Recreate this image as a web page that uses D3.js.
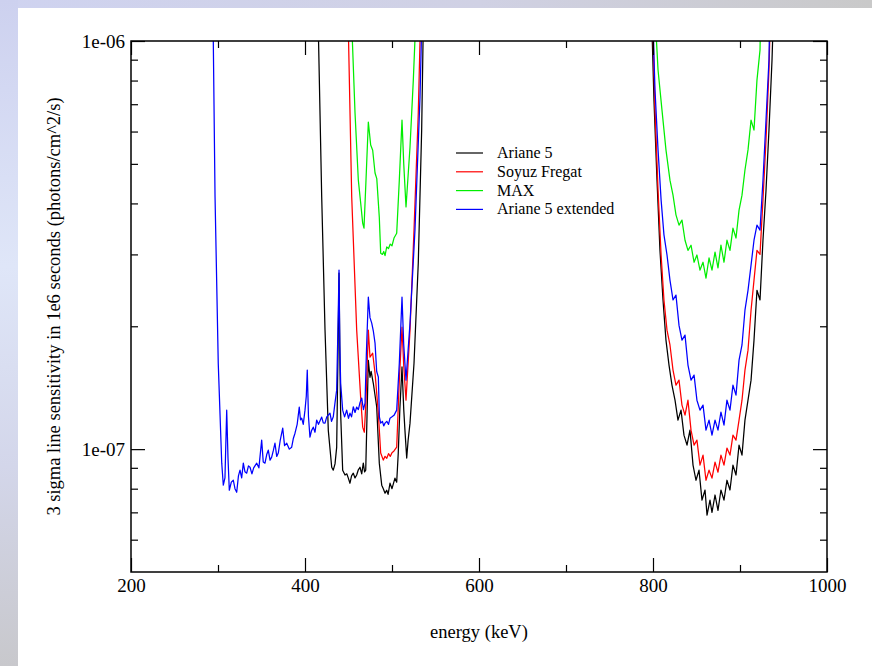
<!DOCTYPE html>
<html>
<head>
<meta charset="utf-8">
<script src="https://cdn.jsdelivr.net/npm/d3@7"></script>
<style>
  body { margin: 0; padding: 0; background: #fff; }
  text { font-family: "Liberation Serif", "Times New Roman", serif; fill: #000; }
</style>
</head>
<body>
<div id="chart"></div>
<script>
var width = 872;
var height = 666;
var margin = {top: 41, right: 45, bottom: 94, left: 131};

// series, energy (keV) / sensitivity (photons/cm^2/s)
var seriesNames = ["Ariane 5", "Soyuz Fregat", "MAX", "Ariane 5 extended"];
var seriesColors = ["#000000", "#ff0000", "#00ee00", "#0000ff"];

var ariane5 = [
  [414.5, 1.3e-6], [419.2, 4.15e-7], [423.0, 1.96e-7], [426.8, 1.11e-7], [430.7, 9.03e-8], [432.5, 8.88e-8],
  [434.5, 9.2e-8], [436.4, 1.01e-7], [438.3, 1.96e-7], [439.1, 2.70e-7], [440.2, 1.6e-7], [441.0, 1.22e-7],
  [443.3, 8.88e-8], [446, 8.64e-8], [448, 8.7e-8], [449.8, 8.49e-8], [451.7, 8.25e-8], [453.5, 8.6e-8],
  [455.5, 8.73e-8], [457.5, 8.5e-8], [459.4, 8.64e-8], [461.3, 8.9e-8], [463.2, 9.03e-8], [465.2, 8.7e-8],
  [467.0, 9.24e-8], [468.5, 8.8e-8], [469.8, 8.88e-8], [472.8, 1.65e-7], [474.7, 1.50e-7], [476, 1.55e-7],
  [478.5, 1.45e-7], [482.4, 1.27e-7], [485.4, 9.24e-8], [488.2, 8.16e-8], [490, 8.0e-8], [492, 7.8e-8],
  [493.9, 7.93e-8], [495.5, 7.75e-8], [497.7, 8.25e-8], [500, 8.0e-8], [503.4, 8.49e-8], [505.4, 8.3e-8],
  [507.2, 9.78e-8], [509, 1.25e-7], [511.5, 1.59e-7], [513.5, 1.25e-7], [514.9, 1.11e-7], [516.9, 9.51e-8],
  [518.5, 1.05e-7], [520.7, 1.158e-7], [525.3, 1.624e-7], [530.2, 2.856e-7], [534.1, 6.05e-7], [536.5, 1.3e-6],
  null,
  [797.7, 1.3e-6], [801.1, 7.17e-7], [804.6, 4.56e-7], [808.0, 3.07e-7], [811.5, 2.32e-7], [814.9, 1.85e-7],
  [818.4, 1.607e-7], [821.8, 1.435e-7], [825.3, 1.318e-7], [828.7, 1.178e-7], [832.2, 1.246e-7], [835.6, 1.082e-7],
  [839.1, 1.023e-7], [842.5, 1.113e-7], [846.0, 9.14e-8], [849.4, 8.39e-8], [852.9, 8.88e-8], [856.3, 7.50e-8],
  [859.8, 7.94e-8], [862.1, 6.89e-8], [865.5, 7.50e-8], [867.8, 7.0e-8], [871.3, 7.72e-8], [874.7, 7.08e-8],
  [878.1, 7.94e-8], [881.6, 7.50e-8], [885.0, 8.39e-8], [888.5, 7.94e-8], [891.9, 9.14e-8], [895.4, 8.64e-8],
  [898.9, 1.023e-7], [902.3, 9.67e-8], [905.7, 1.178e-7], [909.2, 1.318e-7], [912.7, 1.476e-7], [916.1, 1.85e-7],
  [919.5, 2.45e-7], [923.0, 2.32e-7], [926.4, 3.25e-7], [929.9, 4.31e-7], [933.3, 6.05e-7], [936.8, 8.98e-7],
  [939.1, 1.3e-6]
];

var soyuzFregat = [
  [449, 1.3e-6], [453.7, 4.15e-7], [459.4, 1.96e-7], [464.0, 1.334e-7], [466.3, 1.132e-7], [468.2, 1.10e-7],
  [470, 1.3e-7], [472.8, 1.957e-7], [474.7, 1.68e-7], [477.8, 1.718e-7], [480.5, 1.536e-7], [484.3, 1.225e-7],
  [487, 9.78e-8], [490, 9.4e-8], [492, 9.6e-8], [494, 9.5e-8], [496, 9.75e-8], [498, 9.6e-8], [500, 9.8e-8],
  [502.3, 9.9e-8], [505.4, 1.011e-7], [508.4, 1.476e-7], [511.5, 1.99e-7], [513.5, 1.6e-7], [516.1, 1.318e-7],
  [520.7, 1.957e-7], [525.3, 3.44e-7], [530.2, 6.66e-7], [533.5, 1.3e-6],
  null,
  [798.9, 1.3e-6], [802.3, 6.78e-7], [805.8, 4.31e-7], [809.3, 2.99e-7], [812.6, 2.32e-7], [816.1, 1.957e-7],
  [819.5, 1.80e-7], [823.0, 1.562e-7], [826.4, 1.435e-7], [829.9, 1.476e-7], [833.3, 1.282e-7], [836.8, 1.212e-7],
  [840.2, 1.318e-7], [843.7, 1.113e-7], [847.2, 1.023e-7], [850.5, 1.052e-7], [854.0, 9.14e-8], [857.5, 9.67e-8],
  [860.9, 8.39e-8], [864.4, 8.88e-8], [867.8, 8.49e-8], [871.3, 9.29e-8], [874.7, 8.78e-8], [878.1, 9.67e-8],
  [881.6, 9.14e-8], [885.0, 1.006e-7], [888.5, 9.67e-8], [891.9, 1.082e-7], [895.4, 1.052e-7], [898.9, 1.178e-7],
  [902.3, 1.318e-7], [905.7, 1.562e-7], [909.2, 1.748e-7], [912.7, 2.19e-7], [916.1, 2.595e-7], [919.5, 3.07e-7],
  [923.0, 3.0e-7], [926.4, 4.08e-7], [929.9, 5.72e-7], [933.3, 8.49e-7], [935.6, 1.3e-6]
];

var max = [
  [452.5, 1.3e-6], [457.5, 6.66e-7], [461.3, 4.56e-7], [464.0, 4.01e-7], [466.3, 3.58e-7], [467.8, 3.48e-7],
  [470, 4.5e-7], [472.8, 6.33e-7], [475.5, 5.56e-7], [477.8, 5.4e-7], [480.5, 4.75e-7], [482.5, 4.6e-7],
  [485.4, 3.70e-7], [487, 3.02e-7], [489, 3.0e-7], [490.5, 3.05e-7], [492, 2.98e-7], [493.9, 3.128e-7],
  [496, 3.1e-7], [498, 3.18e-7], [500, 3.15e-7], [502.3, 3.29e-7], [505.4, 3.38e-7], [508.4, 4.56e-7],
  [511.5, 6.40e-7], [513.5, 5.0e-7], [516.1, 3.92e-7], [520.7, 5.50e-7], [524.5, 8.02e-7], [528.5, 1.3e-6],
  null,
  [801.1, 1.3e-6], [805.8, 8.49e-7], [810.3, 6.78e-7], [814.9, 5.41e-7], [819.5, 4.56e-7], [823.0, 4.19e-7],
  [826.4, 3.75e-7], [829.9, 3.54e-7], [833.3, 3.64e-7], [836.8, 3.25e-7], [840.2, 3.07e-7], [843.7, 3.16e-7],
  [847.2, 2.87e-7], [850.5, 2.99e-7], [854.0, 2.746e-7], [857.5, 2.87e-7], [860.9, 2.625e-7], [864.4, 2.94e-7],
  [867.8, 2.746e-7], [871.3, 3.04e-7], [874.7, 2.78e-7], [878.1, 3.16e-7], [881.6, 2.87e-7], [885.0, 3.25e-7],
  [888.5, 3.07e-7], [891.9, 3.48e-7], [895.4, 3.29e-7], [898.9, 3.85e-7], [902.3, 4.19e-7], [905.7, 4.83e-7],
  [909.2, 5.41e-7], [912.7, 6.40e-7], [916.1, 6.05e-7], [919.5, 8.02e-7], [923.0, 9.5e-7], [924.1, 1.3e-6]
];

var ariane5Extended = [
  [294, 1.3e-6], [296.6, 4.15e-7], [300.3, 1.62e-7], [304.3, 9.24e-8], [306.1, 8.16e-8], [308, 8.5e-8],
  [310.0, 1.246e-7], [311.5, 9.5e-8], [313.0, 7.93e-8], [315.3, 8.3e-8], [317.6, 8.39e-8], [319.5, 8.0e-8],
  [321.5, 7.84e-8], [323.5, 8.6e-8], [325.3, 8.88e-8], [327.2, 8.5e-8], [329.1, 9.24e-8], [331, 8.8e-8],
  [333, 8.73e-8], [335, 9.1e-8], [336.8, 9.03e-8], [339, 8.7e-8], [341, 9.0e-8], [344.5, 9.24e-8],
  [347, 9.0e-8], [350.2, 1.052e-7], [352, 9.3e-8], [354, 9.24e-8], [356, 9.7e-8], [357.8, 9.94e-8],
  [359.8, 9.4e-8], [361.7, 9.56e-8], [363.5, 9.9e-8], [365.5, 1.034e-7], [367.5, 9.6e-8], [369.3, 9.78e-8],
  [371.5, 1.05e-7], [374.4, 1.126e-7], [376.5, 1.02e-7], [379, 1.034e-7], [382, 1.0e-7], [384.7, 1.011e-7],
  [386.5, 1.06e-7], [388.5, 1.094e-7], [391, 1.15e-7], [393.4, 1.268e-7], [394.8, 1.18e-7], [396.2, 1.191e-7],
  [398, 1.15e-7], [400, 1.246e-7], [401.5, 1.35e-7], [402.6, 1.562e-7], [404, 1.2e-7], [405.7, 1.07e-7],
  [407.5, 1.11e-7], [409.5, 1.132e-7], [411.5, 1.10e-7], [413.4, 1.178e-7], [415.5, 1.15e-7], [419.2, 1.198e-7],
  [421, 1.16e-7], [423, 1.158e-7], [425, 1.2e-7], [428.7, 1.225e-7], [430.5, 1.17e-7], [432.5, 1.2e-7],
  [434.5, 1.3e-7], [436.4, 1.395e-7], [438.3, 2.2e-7], [439.1, 2.746e-7], [440, 1.8e-7], [441, 1.45e-7],
  [443.3, 1.246e-7], [445.5, 1.2e-7], [447.9, 1.246e-7], [450, 1.19e-7], [451.7, 1.225e-7], [453.5, 1.2e-7],
  [455.5, 1.27e-7], [457.5, 1.23e-7], [459.4, 1.268e-7], [461.3, 1.25e-7], [463.2, 1.3e-7], [465.2, 1.334e-7],
  [467.2, 1.25e-7], [469.0, 1.296e-7], [470.5, 1.7e-7], [472.8, 2.358e-7], [474.7, 2.1e-7], [476.7, 2.036e-7],
  [478.5, 1.95e-7], [480.5, 1.819e-7], [482.4, 1.55e-7], [484.3, 1.502e-7], [485.5, 1.2e-7], [487, 1.158e-7],
  [489, 1.17e-7], [490.5, 1.14e-7], [492, 1.158e-7], [494, 1.17e-7], [496, 1.15e-7], [497.7, 1.191e-7],
  [500, 1.2e-7], [502.3, 1.21e-7], [505.4, 1.246e-7], [508.4, 1.624e-7], [511.5, 2.358e-7], [513.5, 1.8e-7],
  [516.1, 1.476e-7], [520.7, 2.036e-7], [526.4, 3.44e-7], [532.2, 7.29e-7], [535, 1.3e-6],
  null,
  [798.9, 1.3e-6], [802.3, 7.58e-7], [805.8, 5.41e-7], [809.3, 4.08e-7], [812.6, 3.35e-7], [816.1, 2.99e-7],
  [819.5, 2.595e-7], [823.0, 2.32e-7], [826.4, 2.385e-7], [829.9, 2.01e-7], [833.3, 1.85e-7], [836.8, 1.903e-7],
  [840.2, 1.607e-7], [843.7, 1.476e-7], [847.2, 1.518e-7], [850.5, 1.318e-7], [854.0, 1.246e-7], [857.5, 1.282e-7],
  [860.9, 1.113e-7], [864.4, 1.178e-7], [867.8, 1.082e-7], [871.3, 1.178e-7], [874.7, 1.113e-7], [878.1, 1.232e-7],
  [881.6, 1.145e-7], [885.0, 1.318e-7], [888.5, 1.246e-7], [891.9, 1.435e-7], [895.4, 1.356e-7], [898.9, 1.652e-7],
  [902.3, 1.80e-7], [905.7, 2.19e-7], [909.2, 2.45e-7], [912.7, 2.825e-7], [916.1, 3.25e-7], [919.5, 3.54e-7],
  [923.0, 3.44e-7], [926.4, 4.56e-7], [929.9, 6.40e-7], [933.3, 8.98e-7], [934.5, 1.3e-6]
];

var xMajor = [200, 400, 600, 800, 1000];
var xMinor = [300, 500, 700, 900];
var yMajor = [1e-7, 1e-6];
var yMinor = [6e-8, 7e-8, 8e-8, 9e-8, 2e-7, 3e-7, 4e-7, 5e-7, 6e-7, 7e-7, 8e-7, 9e-7];
var yTickLabels = ["1e-07", "1e-06"];

var allSeries = [ariane5, soyuzFregat, max, ariane5Extended];

var innerW = width - margin.left - margin.right;
var innerH = height - margin.top - margin.bottom;

var svg = d3.select("#chart").append("svg")
  .attr("width", width)
  .attr("height", height);

// background: bluish frame round the white page
var defs = svg.append("defs");
var gTop = defs.append("linearGradient").attr("id", "gtop");
gTop.append("stop").attr("offset", "0%").attr("stop-color", "#cfd3f0");
gTop.append("stop").attr("offset", "55%").attr("stop-color", "#d0d1e4");
gTop.append("stop").attr("offset", "100%").attr("stop-color", "#c9c9c9");
var gLeft = defs.append("linearGradient").attr("id", "gleft")
  .attr("x1", 0).attr("y1", 0).attr("x2", 0).attr("y2", 1);
gLeft.append("stop").attr("offset", "0%").attr("stop-color", "#cdd1ef");
gLeft.append("stop").attr("offset", "40%").attr("stop-color", "#dfe6f8");
gLeft.append("stop").attr("offset", "70%").attr("stop-color", "#d3d6ea");
gLeft.append("stop").attr("offset", "100%").attr("stop-color", "#c8c8cc");

svg.append("rect").attr("x", 0).attr("y", 0).attr("width", width).attr("height", 8).attr("fill", "url(#gtop)");
svg.append("rect").attr("x", 0).attr("y", 0).attr("width", 18).attr("height", height).attr("fill", "url(#gleft)");
svg.append("rect").attr("x", 18).attr("y", 8).attr("width", width - 18).attr("height", height - 8).attr("fill", "#fff");

defs.append("clipPath").attr("id", "plotclip")
  .append("rect").attr("width", innerW).attr("height", innerH);

var g = svg.append("g").attr("transform", "translate(" + margin.left + "," + margin.top + ")");

var x = d3.scaleLinear().domain([200, 1000]).range([0, innerW]);
var y = d3.scaleLog().domain([5e-8, 1e-6]).range([innerH, 0]);

var line = d3.line()
  .defined(function(d) { return d !== null; })
  .x(function(d) { return x(d[0]); })
  .y(function(d) { return y(d[1]); });

var curves = g.append("g").attr("clip-path", "url(#plotclip)");
allSeries.forEach(function(s, i) {
  curves.append("path")
    .datum(s)
    .attr("fill", "none")
    .attr("stroke", seriesColors[i])
    .attr("stroke-width", 1.25)
    .attr("stroke-linejoin", "round")
    .attr("d", line);
});

// ticks, all pointing inwards
function styleAxis(sel) {
  sel.select(".domain").remove();
  sel.selectAll(".tick line").attr("stroke", "#000").attr("stroke-width", 1.2);
  sel.selectAll("text").style("font-size", "19px").style("font-family", "'Liberation Serif', 'Times New Roman', serif");
}

g.append("g").attr("transform", "translate(0," + innerH + ")")
  .call(d3.axisBottom(x).tickValues(xMajor).tickSizeInner(-14).tickSizeOuter(0).tickPadding(7).tickFormat(d3.format("d")))
  .call(styleAxis);
g.append("g").attr("transform", "translate(0," + innerH + ")")
  .call(d3.axisBottom(x).tickValues(xMinor).tickSizeInner(-7).tickSizeOuter(0).tickFormat(""))
  .call(styleAxis);
g.append("g")
  .call(d3.axisTop(x).tickValues(xMajor).tickSizeInner(-14).tickSizeOuter(0).tickFormat(""))
  .call(styleAxis);
g.append("g")
  .call(d3.axisTop(x).tickValues(xMinor).tickSizeInner(-7).tickSizeOuter(0).tickFormat(""))
  .call(styleAxis);

g.append("g")
  .call(d3.axisLeft(y).tickValues(yMajor).tickSizeInner(-14).tickSizeOuter(0).tickPadding(6)
    .tickFormat(function(d, i) { return yTickLabels[i]; }))
  .call(styleAxis);
g.append("g")
  .call(d3.axisLeft(y).tickValues(yMinor).tickSizeInner(-7).tickSizeOuter(0).tickFormat(""))
  .call(styleAxis);
g.append("g").attr("transform", "translate(" + innerW + ",0)")
  .call(d3.axisRight(y).tickValues(yMajor).tickSizeInner(-14).tickSizeOuter(0).tickFormat(""))
  .call(styleAxis);
g.append("g").attr("transform", "translate(" + innerW + ",0)")
  .call(d3.axisRight(y).tickValues(yMinor).tickSizeInner(-7).tickSizeOuter(0).tickFormat(""))
  .call(styleAxis);

// frame
g.append("rect")
  .attr("width", innerW).attr("height", innerH)
  .attr("fill", "none").attr("stroke", "#000").attr("stroke-width", 1.5);

// axis titles
svg.append("text")
  .attr("x", margin.left + innerW / 2)
  .attr("y", 638)
  .attr("text-anchor", "middle")
  .style("font-size", "18.5px")
  .text("energy (keV)");

svg.append("text")
  .attr("transform", "translate(60," + (margin.top + innerH / 2) + ") rotate(-90)")
  .attr("text-anchor", "middle")
  .style("font-size", "18.5px")
  .text("3 sigma line sensitivity in 1e6 seconds (photons/cm^2/s)");

// legend
var legend = svg.append("g").attr("transform", "translate(456,153)");
seriesNames.forEach(function(name, i) {
  var row = legend.append("g").attr("transform", "translate(0," + (i * 18.8) + ")");
  row.append("line").attr("x1", 0).attr("x2", 27).attr("y1", 0).attr("y2", 0)
    .attr("stroke", seriesColors[i]).attr("stroke-width", 1.2);
  row.append("text").attr("x", 41).attr("y", 5).style("font-size", "16px").text(name);
});
</script>
</body>
</html>
